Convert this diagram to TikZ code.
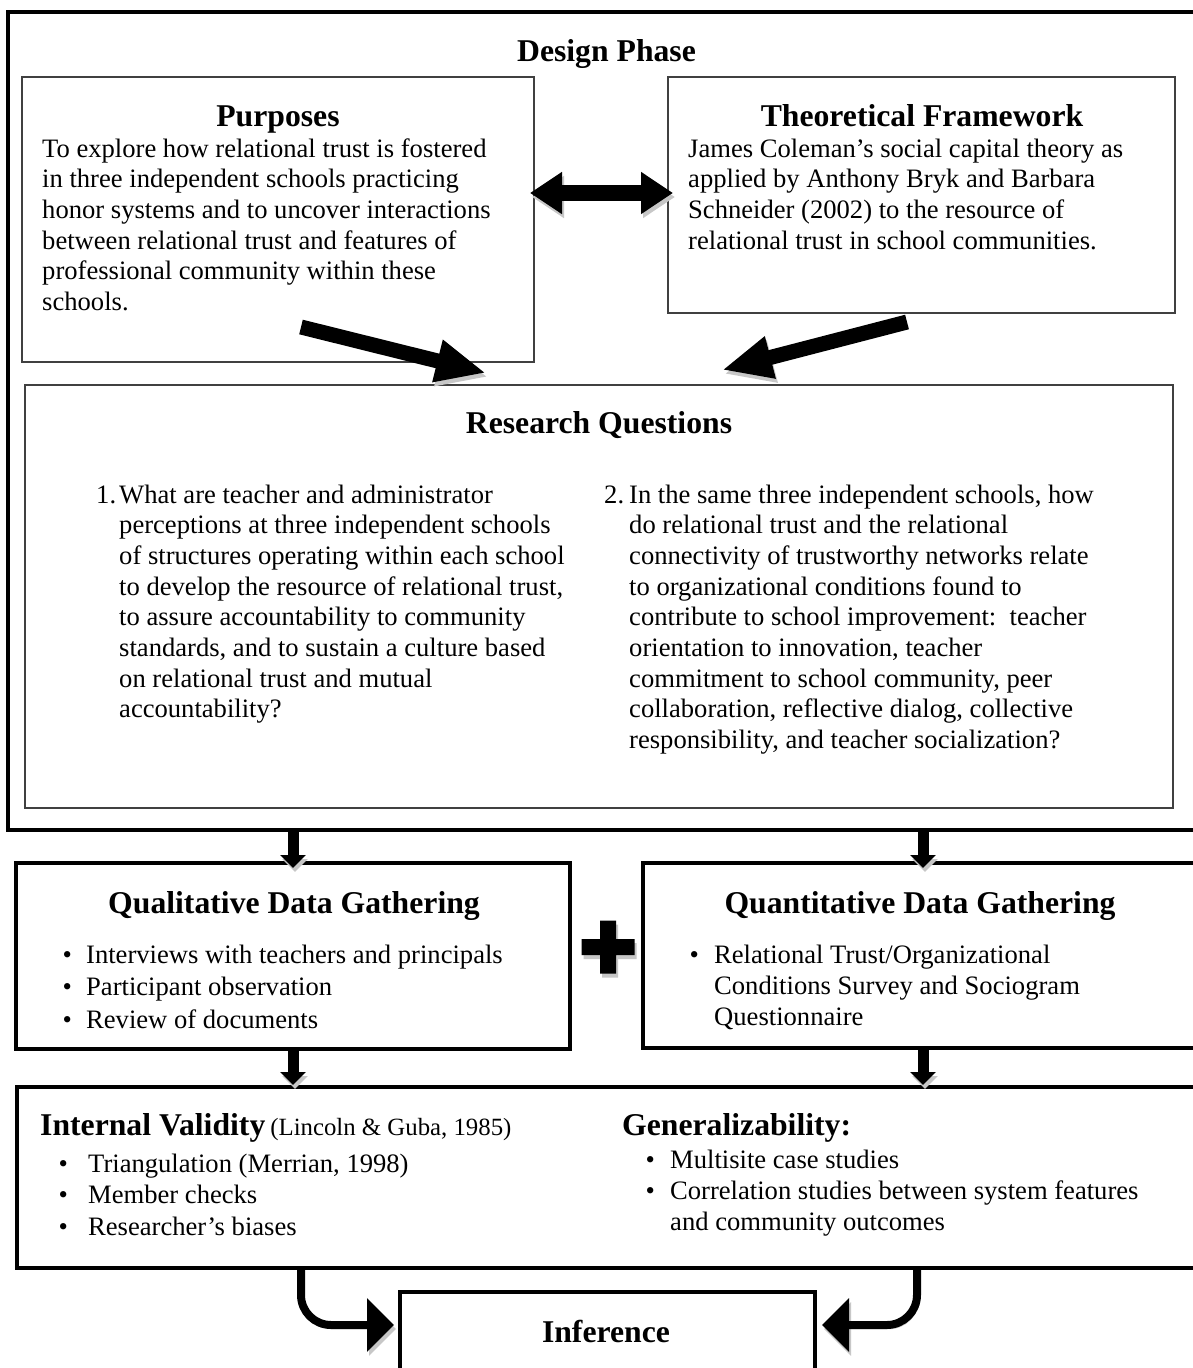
\documentclass[tikz,border=0pt]{standalone}
\usepackage{fontspec}
\setmainfont{Liberation Serif}
\usetikzlibrary{arrows.meta}

% text sizes
\newcommand\bodyfont{\fontsize{26.6pt}{30.7pt}\selectfont}
\newcommand\headfont{\fontsize{31.7pt}{36pt}\selectfont\bfseries}
% a block of left-aligned lines (rows separated by \cr), baseline = first line
\newcommand\rows[1]{\vtop{\halign{##\hfil\cr#1\crcr}}}
% a list with a fixed-width marker column
\newcommand\items[2]{\vtop{\halign{\hbox to #1{##\hfil}&##\hfil\cr#2\crcr}}}

\tikzset{
  shadowed/.style={preaction={draw=black!22, transform canvas={xshift=2pt,yshift=-4pt}}},
  thinbox/.style={draw=black!75, line width=1.5pt, inner sep=0pt},
  thickbox/.style={draw=black, line width=4pt, inner sep=0pt},
  txt/.style={inner sep=0pt, font=\bodyfont},
  head/.style={inner sep=0pt, font=\headfont},
  bigarrow/.style={line width=15pt, -{Triangle[length=50pt,width=40pt]}, shadowed},
  twoway/.style={line width=16pt, {Triangle[length=32pt,width=40pt]}-{Triangle[length=32pt,width=40pt]}, shadowed},
  downarrow/.style={line width=11pt, -{Triangle[length=13pt,width=25pt]}, shadowed},
  bendarrow/.style={line width=8pt, rounded corners=30pt, -{Triangle[length=27pt,width=52pt]}, shadowed},
}

\begin{document}
\begin{tikzpicture}[x=1pt,y=-1pt]
\useasboundingbox (0,0) rectangle (1193,1368);
\fill[white] (0,0) rectangle (1193,1368);
\clip (0,0) rectangle (1193,1368);

% ---------------- design phase frame ----------------
\node[thickbox, minimum width=1202pt, minimum height=818.5pt] (design) at (609,420.75) {};
\node[head, anchor=base] (designhead) at (606.5,61) {Design Phase};

% purposes
\node[thinbox, minimum width=512pt, minimum height=285pt] (purp) at (278,219.5) {};
\node[head, anchor=base] (purphead) at (278,126) {Purposes};
\node[txt, anchor=base west] (purptxt) at (42,157) {\rows{%
To explore how relational trust is fostered\cr
in three independent schools practicing\cr
honor systems and to uncover interactions\cr
between relational trust and features of\cr
professional community within these\cr
schools.}};

% theoretical framework
\node[thinbox, minimum width=507pt, minimum height=236pt] (theory) at (921.5,195) {};
\node[head, anchor=base] (theoryhead) at (922,126) {Theoretical Framework};
\node[txt, anchor=base west] (theorytxt) at (688,157) {\rows{%
James Coleman's social capital theory as\cr
applied by Anthony Bryk and Barbara\cr
Schneider (2002) to the resource of\cr
relational trust in school communities.}};

% research questions
\node[thinbox, minimum width=1148pt, minimum height=423pt] (rq) at (599,596.5) {};
\node[head, anchor=base] (rqhead) at (599,433) {Research Questions};
\node[txt, anchor=base west] (rqone) at (96,503) {\items{23pt}{%
1.&What are teacher and administrator\cr
&perceptions at three independent schools\cr
&of structures operating within each school\cr
&to develop the resource of relational trust,\cr
&to assure accountability to community\cr
&standards, and to sustain a culture based\cr
&on relational trust and mutual\cr
&accountability?}};
\node[txt, anchor=base west] (rqtwo) at (604,503) {\items{25pt}{%
2.&In the same three independent schools, how\cr
&do relational trust and the relational\cr
&connectivity of trustworthy networks relate\cr
&to organizational conditions found to\cr
&contribute to school improvement:\ \ teacher\cr
&orientation to innovation, teacher\cr
&commitment to school community, peer\cr
&collaboration, reflective dialog, collective\cr
&responsibility, and teacher socialization?}};

% arrows inside the design phase
\coordinate (tw1) at (530,193);
\coordinate (tw2) at (673,193);
\draw[twoway] (tw1) -- (tw2);
\coordinate (pa1) at (301,327);
\coordinate (pa2) at (486,373);
\draw[bigarrow] (pa1) -- (pa2);
\coordinate (ta1) at (907,322);
\coordinate (ta2) at (722,370);
\draw[bigarrow] (ta1) -- (ta2);

% ---------------- data gathering ----------------
\node[thickbox, minimum width=554pt, minimum height=186pt] (qual) at (293,956) {};
\node[head, anchor=base] (qualhead) at (294,913) {Qualitative Data Gathering};
\node[inner sep=0pt, font={\fontsize{26.6pt}{32.5pt}\selectfont}, anchor=base west] (qualtxt) at (62.5,963) {\items{23.5pt}{%
\textbullet&Interviews with teachers and principals\cr
\textbullet&Participant observation\cr
\textbullet&Review of documents}};

\node[thickbox, minimum width=572pt, minimum height=185pt] (quant) at (929,955.5) {};
\node[head, anchor=base] (quanthead) at (920,913) {Quantitative Data Gathering};
\node[inner sep=0pt, font={\fontsize{26.6pt}{31pt}\selectfont}, anchor=base west] (quanttxt) at (689.5,963) {\items{24.5pt}{%
\textbullet&Relational Trust/Organizational\cr
&Conditions Survey and Sociogram\cr
&Questionnaire}};

% plus sign
\fill[preaction={fill=black!22, transform canvas={xshift=2pt,yshift=-4pt}}]
  (600,920.5) -- (616,920.5) -- (616,939) -- (634.5,939) -- (634.5,955) -- (616,955)
  -- (616,973.5) -- (600,973.5) -- (600,955) -- (581.5,955) -- (581.5,939) -- (600,939) -- cycle;

\coordinate (d1a) at (293,832);
\coordinate (d1b) at (293,868);
\draw[downarrow] (d1a) -- (d1b);
\coordinate (d2a) at (923,832);
\coordinate (d2b) at (923,868);
\draw[downarrow] (d2a) -- (d2b);

% ---------------- validity ----------------
\node[thickbox, minimum width=1198pt, minimum height=181pt] (valid) at (616,1177.5) {};
\node[anchor=base west, inner sep=0pt] (validhead) at (40,1135)
  {{\headfont Internal Validity}\hspace{5pt}{\fontsize{24.8pt}{30pt}\selectfont (Lincoln \& Guba, 1985)}};
\node[inner sep=0pt, font={\fontsize{26.6pt}{31.5pt}\selectfont}, anchor=base west] (validtxt) at (58.5,1172) {\items{29.5pt}{%
\textbullet&Triangulation (Merrian, 1998)\cr
\textbullet&Member checks\cr
\textbullet&Researcher's biases}};
\node[head, anchor=base west] (genhead) at (622,1135) {Generalizability:};
\node[inner sep=0pt, font={\fontsize{26.6pt}{31pt}\selectfont}, anchor=base west] (gentxt) at (645.5,1168) {\items{24.5pt}{%
\textbullet&Multisite case studies\cr
\textbullet&Correlation studies between system features\cr
&and community outcomes}};

\coordinate (d3a) at (293,1051);
\coordinate (d3b) at (293,1085);
\draw[downarrow] (d3a) -- (d3b);
\coordinate (d4a) at (923,1050);
\coordinate (d4b) at (923,1085);
\draw[downarrow] (d4a) -- (d4b);

% ---------------- inference ----------------
\node[thickbox, minimum width=415pt, minimum height=120pt] (infer) at (607.5,1352) {};
\node[head, anchor=base] (inferhead) at (606,1342) {Inference};

\coordinate (b1a) at (301,1270);
\coordinate (b1b) at (394,1325);
\draw[bendarrow] (b1a) |- (b1b);
\coordinate (b2a) at (917,1270);
\coordinate (b2b) at (822,1325);
\draw[bendarrow] (b2a) |- (b2b);
\end{tikzpicture}
\end{document}
